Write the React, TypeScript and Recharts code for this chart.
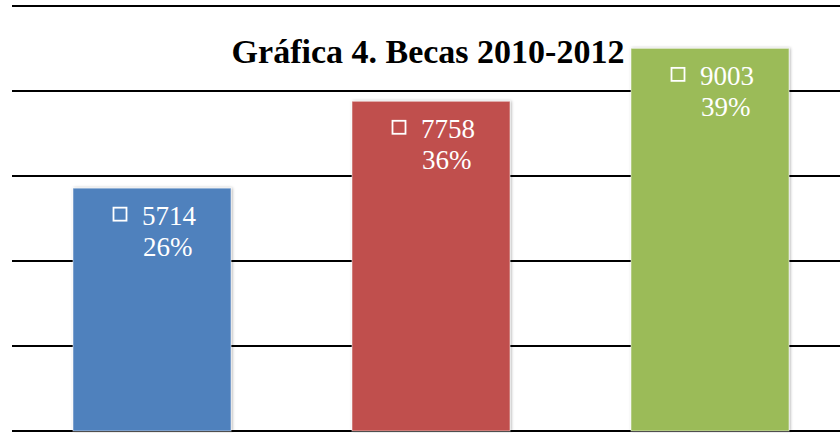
import React from 'react';
import { BarChart, Bar, XAxis, YAxis, CartesianGrid, Cell } from 'recharts';

const categories = ['2010', '2011', '2012'];
const becas = [5714, 7758, 9003];
const percentages = ['26%', '36%', '39%'];
const colors = ['#4F81BD', '#C0504D', '#9BBB59'];
const yTicks = [0, 2000, 4000, 6000, 8000, 10000];
const title = 'Gráfica 4. Becas 2010-2012';

const data = categories.map((c, i) => ({ name: c, value: becas[i], pct: percentages[i] }));

const FONT = '"Liberation Serif", "Times New Roman", serif';

const BarShape = (props: any) => {
  const { x, y, width, height, fill, payload } = props;
  const cx = x + width / 2;
  const base1 = y + 37;
  const base2 = y + 68;
  return (
    <g>
      <rect x={x} y={y} width={width} height={height} fill={fill} filter="url(#barShadow)" stroke="#ffffff" strokeOpacity={0.5} strokeWidth={1} />
      <rect x={cx - 38.5} y={base1 - 17.5} width={13} height={13} fill="none" stroke="#ffffff" strokeWidth={1.8} />
      <text x={cx - 10} y={base1} fill="#ffffff" fontFamily={FONT} fontSize={27}>
        {payload.value}
      </text>
      <text x={cx - 9} y={base2} fill="#ffffff" fontFamily={FONT} fontSize={27}>
        {payload.pct}
      </text>
    </g>
  );
};

export default function App() {
  return (
    <div style={{ position: 'absolute', left: 0, top: 0, width: 840, height: 433, overflow: 'hidden', background: '#ffffff' }}>
      <BarChart width={850} height={433} data={data} margin={{ top: 6, right: 1, bottom: 2, left: 12 }}>
        <defs>
          <filter id="barShadow" x="-10%" y="-10%" width="120%" height="120%">
            <feDropShadow dx="1" dy="0" stdDeviation="1.5" floodColor="#000000" floodOpacity="0.35" />
          </filter>
        </defs>
        <CartesianGrid vertical={false} stroke="#000000" strokeWidth={2} />
        <XAxis dataKey="name" hide />
        <YAxis hide domain={[0, 10000]} ticks={yTicks} />
        <Bar dataKey="value" barSize={158} isAnimationActive={false} shape={BarShape}>
          {data.map((d, i) => (
            <Cell key={d.name} fill={colors[i]} />
          ))}
        </Bar>
      </BarChart>
      <svg width={840} height={433} style={{ position: 'absolute', left: 0, top: 0, pointerEvents: 'none' }}>
        <text x={428} y={63} textAnchor="middle" fontFamily={FONT} fontWeight="bold" fontSize={34} fill="#000000">
          {title}
        </text>
      </svg>
    </div>
  );
}
